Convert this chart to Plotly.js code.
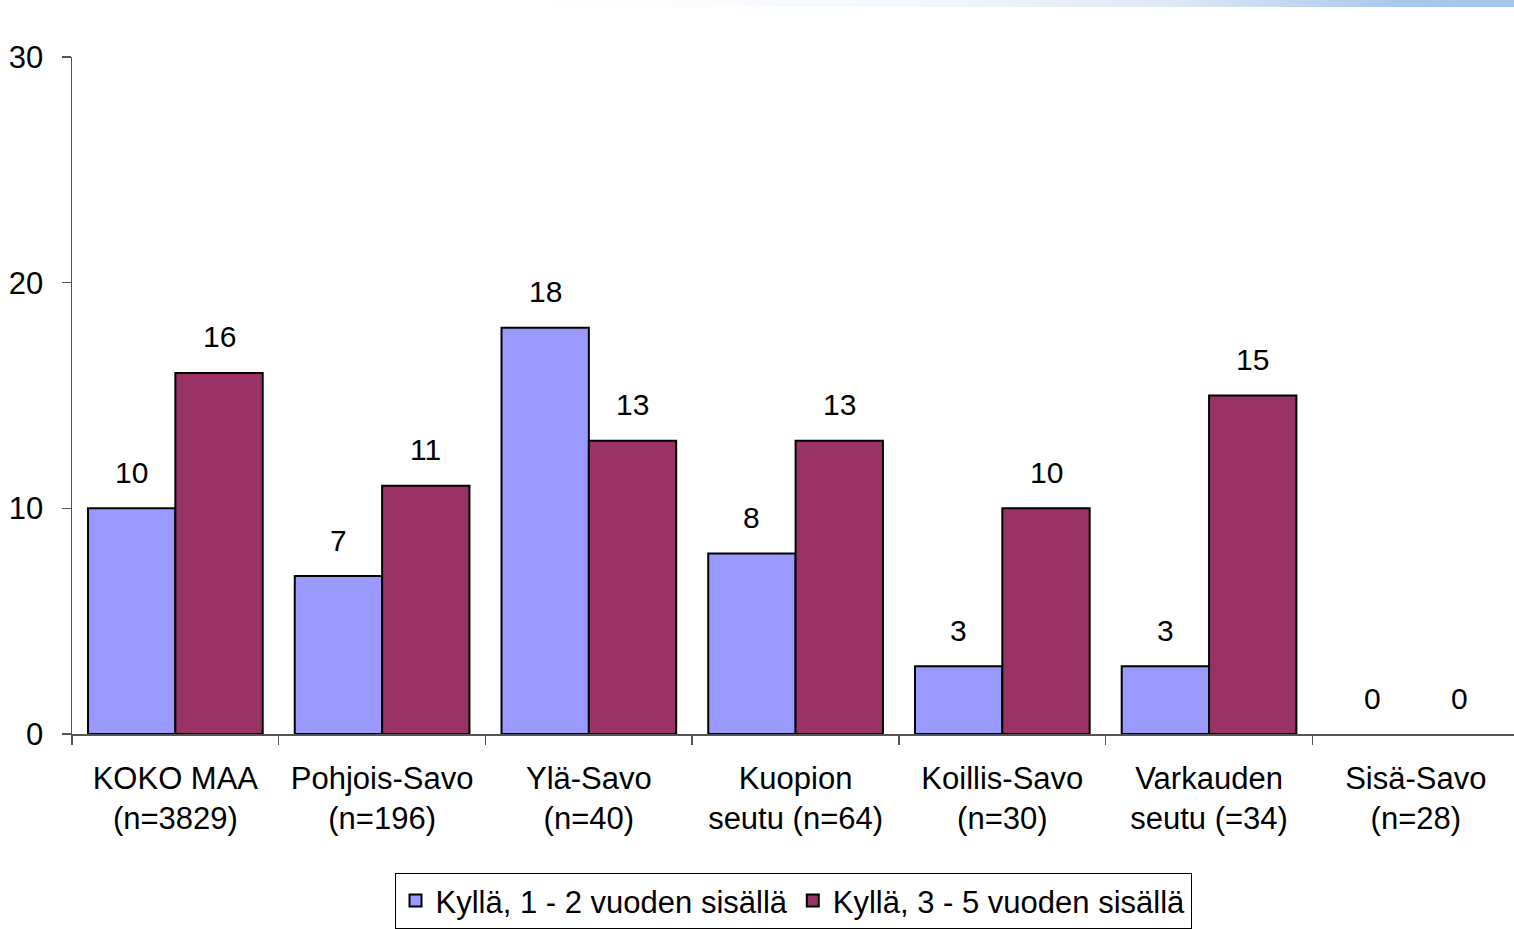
<!DOCTYPE html>
<html>
<head>
<meta charset="utf-8">
<script src="https://cdn.plot.ly/plotly-3.0.1.min.js"></script>
<style>
html,body{margin:0;padding:0;background:#fff;}
#wrap{position:relative;width:1514px;height:929px;}
#grad{position:absolute;left:520px;top:0;width:994px;height:7px;
background:linear-gradient(to right,rgba(255,255,255,1) 0%,#f3f8fc 40%,#dfe9f6 65%,#a9c8ec 88%,#a6c6ec 100%);z-index:5;}
#chart{position:absolute;left:0;top:0;width:1514px;height:929px;}
</style>
</head>
<body>
<div id="wrap"><div id="chart"></div><div id="grad"></div></div>
<script>
const categories = ["KOKO MAA<br>(n=3829)","Pohjois-Savo<br>(n=196)","Ylä-Savo<br>(n=40)","Kuopion<br>seutu (n=64)","Koillis-Savo<br>(n=30)","Varkauden<br>seutu (=34)","Sisä-Savo<br>(n=28)"];
const seriesNames = ["Kyllä, 1 - 2 vuoden sisällä","Kyllä, 3 - 5 vuoden sisällä"];
const series1 = [10,7,18,8,3,3,0];
const series2 = [16,11,13,13,10,15,0];
const colors = ["#9999FF","#993366"];

const FONT = "Liberation Sans, Arial, sans-serif";
const traces = [series1, series2].map((vals,i)=>({
  type:"bar", name:seriesNames[i], x:categories, y:vals,
  marker:{color:colors[i], line:{color:"#000", width:vals.map(v=>v===0?0:2)}},
  offsetgroup:String(i), hoverinfo:"none"
}));

const annotations = [];
[series1, series2].forEach((vals,i)=>{
  vals.forEach((v,j)=>{
    annotations.push({
      x:categories[j], y:v, xref:"x", yref:"y", text:String(v),
      showarrow:false, yanchor:"middle", yshift:36,
      xshift:(i===0?-43.7:43.7),
      font:{family:FONT,size:30,color:"#000"}
    });
  });
});

const layout = {
  width:1514, height:929,
  margin:{l:72,r:0,t:57,b:193,pad:0},
  paper_bgcolor:"#fff", plot_bgcolor:"#fff",
  font:{family:FONT,size:30,color:"#000"},
  barmode:"group", bargap:0.155, bargroupgap:0,
  showlegend:true,
  legend:{orientation:"h", x:0.5, xanchor:"center", y:-0.205, yanchor:"top",
    bordercolor:"#000", borderwidth:1, bgcolor:"#fff",
    font:{family:FONT,size:31,color:"#000"}, traceorder:"normal", itemwidth:30},
  xaxis:{type:"category", range:[-0.5,6.475], showline:true, linecolor:"#555", linewidth:1.5,
    ticks:"outside", tickson:"boundaries", ticklen:9, tickcolor:"#555", tickwidth:1.5,
    ticklabelstandoff:16,
    showgrid:false, zeroline:false, fixedrange:true,
    tickfont:{family:FONT,size:31,color:"#000"}},
  yaxis:{range:[0,30], dtick:10, tick0:0, showline:true, linecolor:"#555", linewidth:1.5,
    ticks:"outside", ticklen:9, tickcolor:"#555", tickwidth:1.5, ticklabelstandoff:12,
    showgrid:false, zeroline:false, fixedrange:true,
    tickfont:{family:FONT,size:31,color:"#000"}},
  annotations:annotations
};
Plotly.newPlot("chart", traces, layout, {staticPlot:true, displayModeBar:false});
</script>
</body>
</html>
